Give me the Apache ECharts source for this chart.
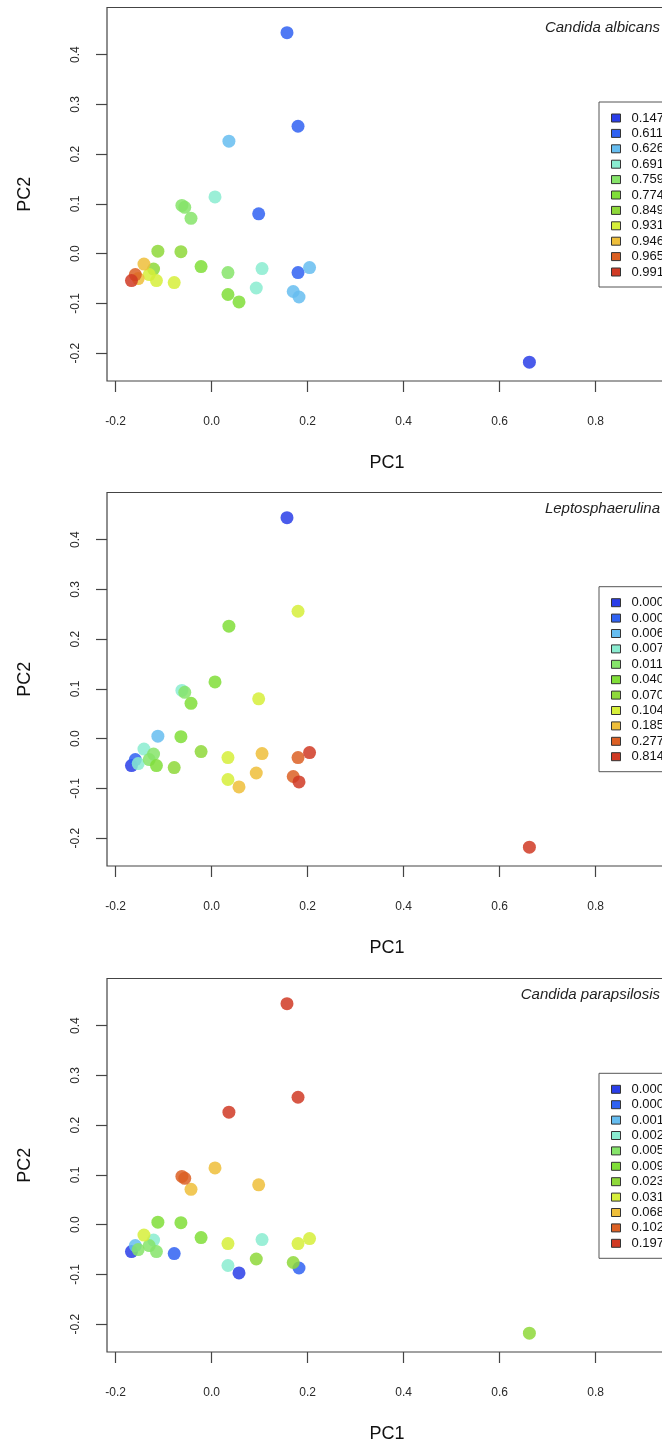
<!DOCTYPE html>
<html>
<head>
<meta charset="utf-8">
<title>PCA</title>
<script src="https://cdn.jsdelivr.net/npm/echarts@6/dist/echarts.min.js"></script>
<style>
  html, body { margin: 0; padding: 0; background: #fff; }
  #chart { width: 662px; height: 1448px; }
</style>
</head>
<body>
<div id="chart"></div>
<script>
// PCA scores (same samples in all three panels)
const pc1 = [0.157, 0.180, 0.036, 0.007, -0.062, -0.056, -0.043, 0.098, -0.112, -0.064,
  -0.022, 0.034, 0.105, 0.180, 0.204, -0.141, -0.121, -0.115, -0.078, 0.034,
  0.057, 0.093, 0.170, 0.182, 0.662, -0.167, -0.159, -0.153, -0.130];
const pc2 = [0.444, 0.256, 0.226, 0.114, 0.097, 0.093, 0.071, 0.080, 0.005, 0.004,
  -0.026, -0.038, -0.030, -0.038, -0.028, -0.021, -0.031, -0.054, -0.058, -0.082,
  -0.097, -0.069, -0.076, -0.087, -0.218, -0.054, -0.042, -0.050, -0.042];

// colour class (1..11) of every sample, one list per species
const classAlbicans = [2, 2, 3, 4, 5, 5, 5, 2, 7, 7, 6, 5, 4, 2, 3, 9, 7, 8, 8, 6, 6, 4, 3, 3, 1, 11, 10, 9, 8];
const classLepto = [1, 8, 6, 6, 4, 5, 6, 8, 3, 6, 7, 8, 9, 10, 11, 4, 5, 6, 7, 8, 9, 9, 10, 11, 11, 1, 2, 4, 5];
const classPara = [11, 11, 11, 9, 10, 10, 9, 9, 6, 6, 6, 8, 4, 8, 8, 8, 4, 5, 2, 4, 1, 7, 7, 2, 7, 1, 3, 5, 5];

// legend labels
const labelsAlbicans = ["0.147", "0.611", "0.626", "0.691", "0.759", "0.774", "0.849", "0.931", "0.946", "0.965", "0.991"];
const labelsLepto = ["0.000", "0.000", "0.006", "0.007", "0.011", "0.040", "0.070", "0.104", "0.185", "0.277", "0.814"];
const labelsPara = ["0.000", "0.000", "0.001", "0.002", "0.005", "0.009", "0.023", "0.031", "0.068", "0.102", "0.197"];

const titles = ["Candida albicans", "Leptosphaerulina", "Candida parapsilosis"];

// axis ticks
const xTicks = [-0.2, 0, 0.2, 0.4, 0.6, 0.8];
const yTicks = [-0.2, -0.1, 0, 0.1, 0.2, 0.3, 0.4];

const palette = ["#2a3ee8", "#3062f2", "#66bdf0", "#8aecd0", "#86e46a", "#80de38",
  "#8ed83a", "#d6ee3a", "#eebe3a", "#dc6024", "#d03a24"];

const FONT = "Liberation Sans, Arial, Helvetica, sans-serif";
const panelTop = [7.5, 492.5, 978.5];
const legendTop = [102, 586.7, 1073.3];
const titleTop = [18.5, 499.5, 985.5];

const chart = echarts.init(document.getElementById("chart"));

const classes = [classAlbicans, classLepto, classPara];
const labels = [labelsAlbicans, labelsLepto, labelsPara];
const nameMap = {};

const grids = [], xAxes = [], yAxes = [], series = [], legends = [], titleOpts = [];

for (let p = 0; p < 3; p++) {
  // the plot box runs past the right edge of the picture, like the cropped original
  grids.push({
    left: 107, width: 560, top: panelTop[p], height: 373.5,
    outerBoundsMode: "none",
    show: true, borderColor: "#444", borderWidth: 1.2, backgroundColor: "transparent",
  });
  xAxes.push({
    gridIndex: p, type: "value", min: -0.218, max: 0.9487,
    name: "PC1", nameLocation: "middle", nameGap: 73,
    nameTextStyle: { fontSize: 18, color: "#111", fontFamily: FONT },
    splitLine: { show: false },
    axisLine: { show: false, onZero: false },
    axisTick: { show: true, inside: false, length: 11, customValues: xTicks, lineStyle: { color: "#444", width: 1.2 } },
    axisLabel: {
      customValues: xTicks, margin: 35, fontSize: 12, color: "#2a2a2a", fontFamily: FONT,
      formatter: (v) => v.toFixed(1),
    },
  });
  yAxes.push({
    gridIndex: p, type: "value", min: -0.2558, max: 0.4945,
    name: "PC2", nameLocation: "middle", nameGap: 73,
    nameTextStyle: { fontSize: 18, color: "#111", fontFamily: FONT },
    splitLine: { show: false },
    axisLine: { show: false, onZero: false },
    axisTick: { show: true, inside: false, length: 11, customValues: yTicks, lineStyle: { color: "#444", width: 1.2 } },
    axisLabel: {
      customValues: yTicks, rotate: 90, margin: 25, fontSize: 12, color: "#2a2a2a", fontFamily: FONT,
      formatter: (v) => v.toFixed(1),
    },
  });

  const legendData = [];
  for (let k = 1; k <= 11; k++) {
    const sName = "p" + p + "_" + k;
    nameMap[sName] = labels[p][k - 1];
    const pts = [];
    classes[p].forEach((c, i) => {
      if (c === k) pts.push([pc1[i], pc2[i]]);
    });
    series.push({
      name: sName,
      type: "scatter",
      xAxisIndex: p,
      yAxisIndex: p,
      symbolSize: 13,
      itemStyle: { color: palette[k - 1], opacity: 0.85 },
      data: pts,
    });
    legendData.push({
      name: sName,
      icon: "rect",
      itemStyle: { color: palette[k - 1], opacity: 1, borderColor: "#333", borderWidth: 1 },
    });
  }
  legends.push({
    orient: "vertical",
    left: 599,
    top: legendTop[p],
    width: 140,
    itemWidth: 9,
    itemHeight: 8,
    itemGap: 1.4,
    padding: [9, 40, 8, 12],
    borderColor: "#555",
    borderWidth: 1,
    selectedMode: false,
    data: legendData,
    formatter: (name) => nameMap[name],
    textStyle: { fontSize: 13, lineHeight: 14, color: "#111", fontFamily: FONT, padding: [0, 0, 0, 6] },
  });
  titleOpts.push({
    text: titles[p],
    right: 2,
    top: titleTop[p],
    padding: 0,
    textStyle: { fontSize: 15, lineHeight: 18, fontStyle: "italic", fontWeight: "normal", color: "#222", fontFamily: FONT },
  });
}

chart.setOption({
  animation: false,
  title: titleOpts,
  grid: grids,
  xAxis: xAxes,
  yAxis: yAxes,
  legend: legends,
  series: series,
});
</script>
</body>
</html>
